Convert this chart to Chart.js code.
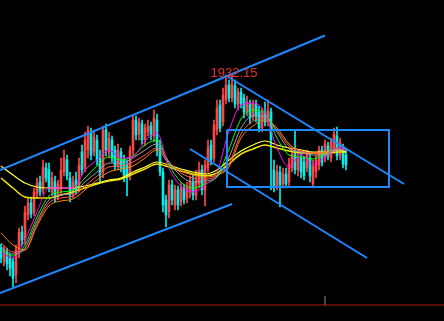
<!DOCTYPE html>
<html><head><meta charset="utf-8">
<script src="https://cdn.jsdelivr.net/npm/chart.js@4/dist/chart.umd.min.js"></script>
<style>html,body{margin:0;padding:0;background:#000;overflow:hidden}#wrap{width:444px;height:321px;position:relative}canvas{display:block}</style>
</head><body><div id="wrap"><canvas id="c" width="444" height="321"></canvas></div>
<script>
// ---- candle data (price units) ----
const opens=[1759,1745,1755,1749,1745,1732,1755,1775,1767,1792,
1804,1795,1813,1825,1817,1839,1837,1815,1825,1811,
1819,1835,1847,1829,1813,1827,1819,1855,1839,1857,
1875,1855,1867,1849,1835,1877,1855,1867,1857,1842,
1855,1847,1842,1831,1857,1887,1873,1883,1867,1875,
1881,1871,1887,1859,1835,1807,1795,1822,1802,1817,
1805,1819,1809,1815,1825,1811,1823,1837,1817,1839,
1862,1849,1877,1902,1885,1907,1922,1909,1921,1903,
1915,1909,1895,1903,1891,1903,1895,1879,1895,1885,
1895,1837,1821,1835,1823,1833,1825,1839,1853,1837,
1849,1845,1839,1849,1823,1835,1842,1857,1849,1861,
1849,1857,1871,1851,1859,1852];
const closes=[1749,1757,1743,1739,1729,1757,1775,1767,1795,1804,
1793,1815,1824,1815,1840,1829,1819,1829,1809,1823,
1837,1849,1831,1812,1825,1817,1842,1837,1867,1877,
1852,1870,1847,1832,1877,1857,1869,1849,1841,1857,
1839,1832,1829,1857,1887,1872,1885,1867,1879,1881,
1871,1889,1857,1835,1802,1792,1822,1807,1817,1802,
1819,1807,1821,1825,1812,1827,1837,1817,1842,1859,
1847,1882,1899,1879,1912,1922,1909,1923,1903,1915,
1903,1895,1905,1889,1903,1891,1879,1895,1885,1897,
1867,1819,1835,1822,1833,1823,1843,1853,1837,1851,
1835,1831,1853,1831,1841,1847,1857,1845,1863,1851,
1865,1873,1851,1865,1843,1842];
const highs=[1763,1761,1759,1753,1749,1762,1779,1781,1801,1809,
1810,1819,1829,1831,1847,1844,1844,1835,1831,1827,
1849,1857,1852,1835,1831,1835,1849,1862,1875,1881,
1879,1877,1872,1857,1881,1883,1875,1871,1861,1863,
1859,1852,1847,1861,1892,1891,1889,1887,1883,1887,
1885,1897,1893,1867,1839,1812,1827,1827,1822,1821,
1824,1823,1825,1831,1833,1837,1845,1842,1847,1867,
1867,1887,1907,1907,1919,1929,1927,1932.15,1927,1919,
1919,1913,1911,1907,1907,1907,1901,1899,1905,1907,
1899,1847,1842,1841,1839,1839,1849,1859,1877,1857,
1855,1851,1857,1853,1847,1852,1861,1861,1867,1865,
1869,1879,1880,1869,1863,1857];
const lows=[1744,1741,1737,1731,1720,1724,1749,1761,1763,1787,
1789,1791,1809,1811,1813,1825,1815,1811,1805,1807,
1813,1831,1827,1805,1809,1813,1815,1832,1835,1849,
1847,1851,1842,1825,1829,1851,1849,1845,1837,1837,
1835,1825,1811,1827,1852,1867,1867,1863,1861,1871,
1867,1865,1851,1831,1795,1780,1789,1802,1797,1797,
1801,1803,1804,1809,1807,1807,1819,1812,1801,1835,
1842,1845,1872,1875,1881,1903,1905,1905,1899,1897,
1899,1889,1891,1883,1887,1885,1875,1875,1881,1881,
1817,1815,1817,1800,1819,1819,1821,1835,1833,1831,
1829,1827,1835,1825,1819,1829,1837,1841,1845,1847,
1845,1853,1847,1847,1839,1837];

// ---- moving average lines, read at these candle indices ----
const maIndex=[0,4,8,12,16,20,24,28,32,36,40,44,48,52,56,60,64,68,72,76,80,84,88,92,96,100,104,108,112,115];
const maMagenta=[1755,1749,1767,1795,1819,1819,1819,1837,1847,1857,1849,1850,1866,1874,1839,1821,1815,1822,1835,1876,1902,1904,1894,1859,1840,1853,1842,1850,1859,1857];
const maGreen=[1757,1751,1762,1790,1811,1815,1817,1829,1841,1850,1847,1851,1862,1867,1842,1825,1819,1823,1831,1858,1888,1897,1894,1869,1852,1850,1848,1853,1859,1857];
const maGray=[1760,1753,1759,1786,1807,1812,1814,1825,1835,1844,1844,1849,1857,1863,1845,1831,1825,1826,1830,1850,1879,1891,1891,1875,1858,1855,1852,1852,1857,1857];
const maRed=[1764,1755,1757,1783,1804,1809,1811,1821,1831,1840,1841,1845,1852,1859,1845,1834,1829,1828,1831,1843,1873,1886,1889,1877,1861,1856,1854,1854,1857,1858];
const maOrange=[1774,1762,1757,1781,1801,1806,1808,1817,1827,1835,1838,1841,1849,1857,1843,1836,1832,1830,1832,1840,1869,1881,1887,1879,1863,1856,1854,1855,1857,1859];
const maYellow1=[1841,1832,1824,1820,1819,1819,1819,1821,1824,1827,1829,1835,1840,1845,1842,1838,1835,1833,1837,1847,1856,1862,1866,1862,1859,1857,1855,1855,1857,1855];
const maYellow2=[1829,1819,1810,1809,1809,1812,1815,1819,1823,1826,1828,1833,1838,1843,1840,1836,1833,1831,1834,1843,1853,1858,1862,1859,1856,1854,1854,1854,1855,1855];

// ---- drawn trend lines (candle index, price) ----
const upperChannelX=[-0.33,108], upperChannelY=[1837,1971.5];
const lowerChannelX=[-0.33,77], lowerChannelY=[1714,1803];
const descUpperX=[74.67,134.33], descUpperY=[1932,1823];
const descLowerX=[63,122], descLowerY=[1858,1749];
const boxX=[75.33,129.33,129.33,75.33,75.33], boxY=[1877,1877,1820,1820,1877];
const baseLineX=[-1,149], baseLineY=[1702,1702];
const tickX=[108,108], tickY=[1702,1711];

const RED='#ff4646', CYAN='#00f0f0', BLUE='#1e88ff';
const isUp=i=>closes[i]>=opens[i];
const candleColor=c=>isUp(c.dataIndex)?RED:CYAN;

const wickData=opens.map((o,i)=>({x:i,y:[lows[i],highs[i]]}));
const bodyData=opens.map((o,i)=>({x:i,y:[Math.min(o,closes[i]),Math.max(o,closes[i])]}));

function ma(vals,color,order,w){
  return {type:'line',data:maIndex.map((x,k)=>({x,y:vals[k]})),borderColor:color,borderWidth:w||1,
    pointRadius:0,cubicInterpolationMode:'monotone',order};
}
function seg(xs,ys,color,w,order){
  return {type:'line',data:xs.map((x,k)=>({x,y:ys[k]})),borderColor:color,borderWidth:w,
    pointRadius:0,tension:0,order};
}

const labelPlugin={
  id:'hiLabel',
  afterDatasetsDraw(chart){
    const {ctx,scales}=chart;
    let mi=0; highs.forEach((h,i)=>{if(h>highs[mi])mi=i;});
    const x=scales.x.getPixelForValue(mi)+2, y=scales.y.getPixelForValue(highs[mi])+2;
    ctx.save();
    ctx.font='13px "Liberation Sans", Arial, sans-serif';
    ctx.fillStyle='#e8312f';
    ctx.textAlign='center';ctx.textBaseline='alphabetic';
    ctx.fillText(highs[mi].toFixed(2),x,y);
    ctx.restore();
  }
};

new Chart(document.getElementById('c'),{
  type:'bar',
  data:{datasets:[
    {type:'bar',data:wickData,backgroundColor:candleColor,barThickness:1,grouped:false,borderWidth:0,order:20},
    {type:'bar',data:bodyData,backgroundColor:candleColor,barThickness:2,grouped:false,borderWidth:0,order:19},
    ma(maYellow2,'#f2e600',10,1.5),
    ma(maYellow1,'#ffff40',9,1.2),
    ma(maOrange,'#ff8000',8),
    ma(maRed,'#ff5a4a',7),
    ma(maGray,'#a0a0a0',6),
    ma(maGreen,'#00ff00',5),
    ma(maMagenta,'#ff00ff',4),
    seg(baseLineX,baseLineY,'#b01818',1,3),
    seg(tickX,tickY,'#909090',1,3),
    seg(upperChannelX,upperChannelY,BLUE,2,2),
    seg(lowerChannelX,lowerChannelY,BLUE,2,2),
    seg(descUpperX,descUpperY,BLUE,2,2),
    seg(descLowerX,descLowerY,BLUE,2,2),
    seg(boxX,boxY,BLUE,2,2)
  ]},
  options:{
    responsive:false,animation:false,
    layout:{padding:0},
    scales:{
      x:{type:'linear',min:-1/3,max:443/3,offset:false,display:false},
      y:{type:'linear',min:1686,max:2007,display:false}
    },
    plugins:{legend:{display:false},tooltip:{enabled:false}}
  },
  plugins:[labelPlugin]
});
</script>
</body></html>
